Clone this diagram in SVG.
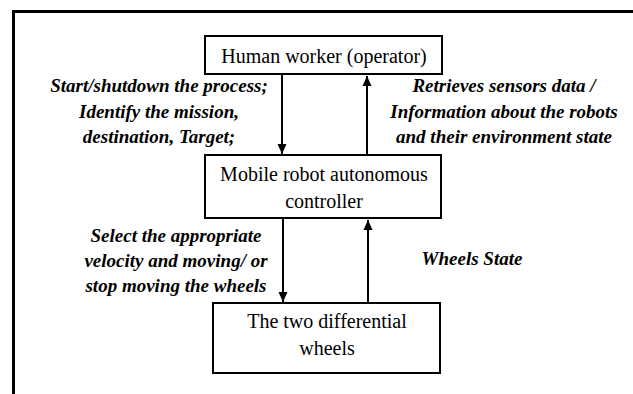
<svg xmlns="http://www.w3.org/2000/svg" width="633" height="394" viewBox="0 0 633 394">
  <style>
    .frame { fill: none; stroke: #000; stroke-width: 3; }
    .box { fill: #fff; stroke: #000; stroke-width: 2; }
    .link { fill: none; stroke: #000; stroke-width: 2; }
    .node-text { font-family: "Liberation Serif", "Times New Roman", serif; font-size: 20px; fill: #000; text-anchor: middle; }
    .label { font-family: "Liberation Serif", "Times New Roman", serif; font-size: 19px; font-weight: bold; font-style: italic; fill: #000; text-anchor: middle; }
  </style>
  <defs>
    <marker id="arrow" markerUnits="userSpaceOnUse" markerWidth="10" markerHeight="10" viewBox="0 0 10 10" refX="10" refY="5" orient="auto">
      <path d="M0,0.5 L10,5 L0,9.5 Z" fill="#000"/>
    </marker>
  </defs>

  <rect width="633" height="394" fill="#fff"/>
  <!-- open frame: left and top edges only -->
  <path class="frame" d="M13.5,396 V11.5 H636"/>

  <g id="connectors">
    <path class="link" d="M282,74 V154" marker-end="url(#arrow)"/>
    <path class="link" d="M367,155 V76" marker-end="url(#arrow)"/>
    <path class="link" d="M283,218 V302" marker-end="url(#arrow)"/>
    <path class="link" d="M368,303 V220" marker-end="url(#arrow)"/>
  </g>

  <g id="operator">
    <rect class="box" x="205" y="36" width="237" height="38"/>
    <text class="node-text" x="324" y="63">Human worker (operator)</text>
  </g>

  <g id="controller">
    <rect class="box" x="205" y="155" width="236" height="63"/>
    <text class="node-text" x="324" y="181">Mobile robot autonomous</text>
    <text class="node-text" x="324" y="208">controller</text>
  </g>

  <g id="wheels">
    <rect class="box" x="213" y="303" width="227" height="70"/>
    <text class="node-text" x="327" y="328">The two differential</text>
    <text class="node-text" x="327" y="355">wheels</text>
  </g>

  <!-- connector captions -->
  <g id="labels">
    <text class="label" x="159" y="92">Start/shutdown the process;</text>
    <text class="label" x="159" y="118">Identify the mission,</text>
    <text class="label" x="159" y="143">destination, Target;</text>

    <text class="label" x="504" y="92">Retrieves sensors data /</text>
    <text class="label" x="504" y="118">Information about the robots</text>
    <text class="label" x="504" y="143">and their environment state</text>

    <text class="label" x="176" y="242">Select the appropriate</text>
    <text class="label" x="176" y="267">velocity and moving/ or</text>
    <text class="label" x="176" y="292">stop moving the wheels</text>

    <text class="label" x="472" y="265">Wheels State</text>
  </g>
</svg>
